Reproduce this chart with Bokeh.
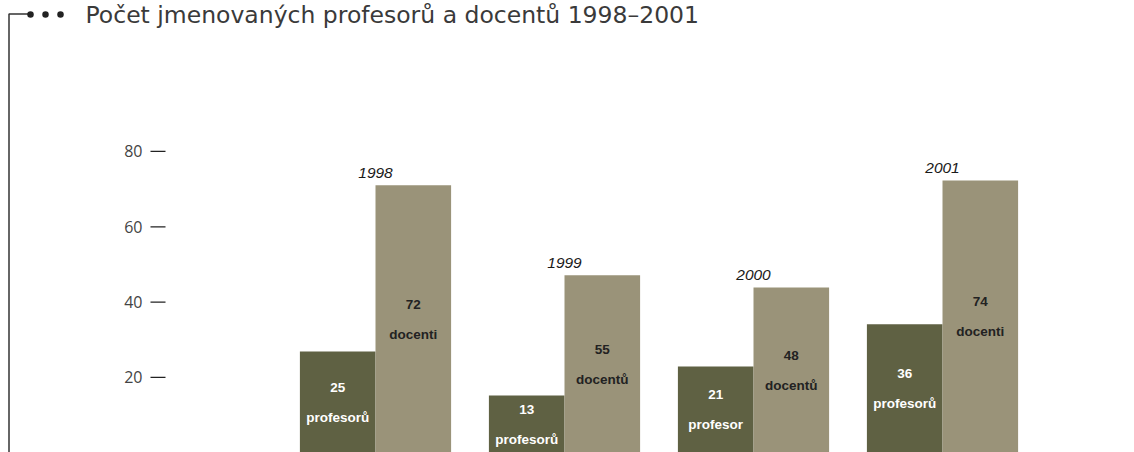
from bokeh.plotting import figure
from bokeh.models import ColumnDataSource, Range1d
from bokeh.core.properties import value
from bokeh.embed import file_html
from bokeh.resources import INLINE

# ---- data ----
years = ["1998", "1999", "2000", "2001"]
prof_heights = [26.9, 15.2, 22.9, 34.1]      # bar heights as drawn
doc_heights = [71.0, 47.1, 43.9, 72.3]
prof_counts = ["25", "13", "21", "36"]       # printed labels
doc_counts = ["72", "55", "48", "74"]
prof_words = ["profesorů", "profesorů", "profesor", "profesorů"]
doc_words = ["docenti", "docentů", "docentů", "docenti"]
y_ticks = [20, 40, 60, 80]
title_text = "Počet jmenovaných profesorů a docentů 1998–2001"

# ---- layout helpers (figure pixel -> data) ----
W, H = 1134, 452
PX0 = 375.0
PITCH = 189.0
PPU = 3.767
ZERO = 452.3


def dx(px):
    return (px - PX0) / PITCH


def dy(py):
    return (ZERO - py) / PPU


DARK = "#5f6143"
LIGHT = "#9a9379"

p = figure(width=W, height=H, output_backend="svg", toolbar_location=None,
           x_axis_type=None, y_axis_type=None,
           x_range=Range1d(dx(0), dx(W)), y_range=Range1d(dy(H), dy(0)),
           min_border=0, tools="")
p.outline_line_color = None
p.background_fill_color = "white"
p.border_fill_color = "white"

idx = list(range(len(years)))
src = ColumnDataSource(dict(
    xp=[i - 0.2 for i in idx], xd=[i + 0.2 for i in idx], xc=idx,
    hp=prof_heights, hd=doc_heights,
    mp=[h / 2 for h in prof_heights], md=[h / 2 for h in doc_heights],
    cp=prof_counts, cd=doc_counts, wp=prof_words, wd=doc_words,
    yr=years,
))

p.vbar(x="xp", top="hp", bottom=0, width=0.4, source=src,
       fill_color=DARK, line_color=None)
p.vbar(x="xd", top="hd", bottom=0, width=0.4, source=src,
       fill_color=LIGHT, line_color=None)

lab_font = value("Liberation Sans")
common = dict(text_font=lab_font, text_font_size="13.5px", text_font_style="bold",
              text_align="center", text_baseline="middle", source=src)
p.text(x="xp", y="mp", text="cp", y_offset=-15, text_color="white", **common)
p.text(x="xp", y="mp", text="wp", y_offset=15, text_color="white", **common)
p.text(x="xd", y="md", text="cd", y_offset=-15, text_color="#222222", **common)
p.text(x="xd", y="md", text="wd", y_offset=15, text_color="#222222", **common)

# year labels above docent bars
p.text(x="xc", y="hd", text="yr", y_offset=-7, source=src,
       text_font=lab_font, text_font_size="15.5px", text_font_style="italic",
       text_align="center", text_baseline="bottom", text_color="#1a1a1a")

# y ticks
tsrc = ColumnDataSource(dict(y=y_ticks, lab=[str(t) for t in y_ticks],
                             x0=[dx(150)] * len(y_ticks), x1=[dx(165)] * len(y_ticks),
                             xl=[dx(142)] * len(y_ticks)))
p.segment(x0="x0", y0="y", x1="x1", y1="y", source=tsrc,
          line_color="#222222", line_width=1.2)
p.text(x="xl", y="y", text="lab", source=tsrc, text_font=value("Open Sans"),
       text_font_size="16px", text_align="right", text_baseline="middle",
       text_color="#444444")

# bracket + dots + title
p.line(x=[dx(8.5), dx(8.5), dx(30)], y=[dy(H), dy(13.5), dy(13.5)],
       line_color="#333333", line_width=1.5)
p.scatter(x=[dx(30), dx(45), dx(60)], y=[dy(14)] * 3, size=6.5,
          fill_color="#222222", line_color=None)
p.text(x=[dx(85)], y=[dy(14)], text=[title_text], text_font=value("DejaVu Sans"),
       text_font_size="23.5px", text_align="left", text_baseline="alphabetic",
       text_color="#3a3a3a")

open("out.html", "w").write(file_html(p, INLINE))
